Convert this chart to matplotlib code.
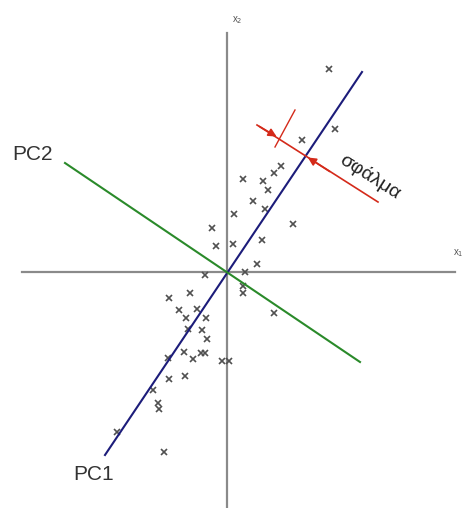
import matplotlib.pyplot as plt

# sample points (x1, x2), centred on the mean
pts_x = [102, 108, 75, 54, 47, 16, 36, 41, 26, 38, 7, 66, -15, 35, -11, 6, 30,
         -22, 18, 16, 16, 47, -37, -58, -48, -30, -41, -21, -39, -25, -20, -43,
         -34, -26, -22, -59, -5, 2, -58, -42, -74, -69, -68, -110, -63]
pts_y = [203, 143, 132, 106, 99, 93, 91, 82, 71, 63, 58, 48, 44, 32, 26, 28, 8,
         -3, 0, -14, -21, -41, -21, -26, -38, -37, -46, -46, -57, -58, -67, -80,
         -87, -81, -81, -86, -89, -89, -107, -104, -118, -131, -137, -160, -180]

# principal component axes (end points)
pc1_x = [-122, 135]
pc1_y = [-183, 200]
pc2_x = [-162, 133]
pc2_y = [109, -90]

# error (distance from PC1) annotation
err_x = [30, 151]
err_y = [147, 70]
tick_x = [68, 48]
tick_y = [162, 125]
err_tip1 = (52, 134)
err_tip2 = (78.5, 116)

plt.rcParams['font.family'] = ['Liberation Sans', 'DejaVu Sans']

fig = plt.figure(figsize=(4.62, 5.08), dpi=100)
ax = fig.add_axes([0, 0, 1, 1])
ax.set_xlim(-227, 235)
ax.set_ylim(-236, 272)
ax.axis('off')

# coordinate axes
ax.plot([0, 0], [-236, 239], color='#8a8a8a', lw=1.6)
ax.plot([-205, 228], [0, 0], color='#8a8a8a', lw=1.6)
ax.text(10, 252, 'x$_2$', fontsize=7, color='#555555', ha='center', va='center')
ax.text(231, 19, 'x$_1$', fontsize=7, color='#555555', ha='center', va='center')

ax.plot(pts_x, pts_y, 'x', color='#505050', ms=4.8, mew=1.2)

ax.plot(pc1_x, pc1_y, color='#1c1c7a', lw=1.5)
ax.plot(pc2_x, pc2_y, color='#2a8a2a', lw=1.5)
ax.text(-195, 117, 'PC2', fontsize=15, color='#333333', ha='center', va='center')
ax.text(-133, -203, 'PC1', fontsize=15, color='#333333', ha='center', va='center')

red = '#d42a1a'
ax.plot(err_x, err_y, color=red, lw=1.2)
ax.plot(tick_x, tick_y, color=red, lw=1.0)
ax.annotate('', xy=err_tip1, xytext=(err_x[0], err_y[0]),
            arrowprops=dict(arrowstyle='-|>', color=red, lw=1.2, mutation_scale=12))
ax.annotate('', xy=err_tip2, xytext=(105, 99),
            arrowprops=dict(arrowstyle='-|>', color=red, lw=1.2, mutation_scale=12))
ax.text(143, 95, 'σφάλμα', fontsize=14, color='#222222', rotation=-32.5,
        rotation_mode='anchor', ha='center', va='center')

fig.savefig('out.png', dpi=100)
